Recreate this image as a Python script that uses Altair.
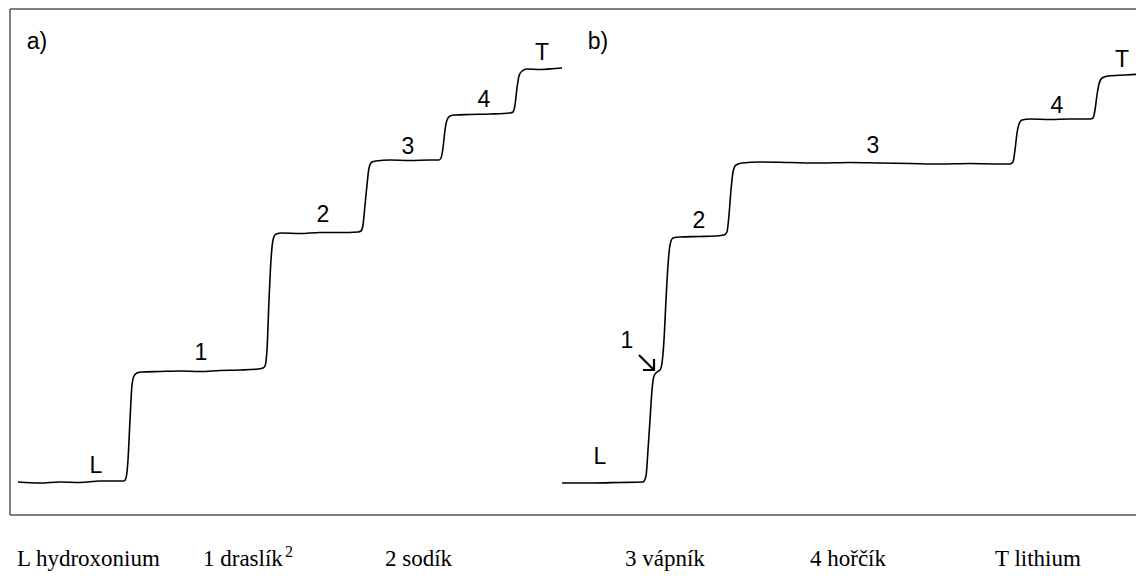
import altair as alt
import pandas as pd

# Panel a) trace (horizontal position, detector signal in picture units; lower y = higher signal)
a_x = [18, 40, 60, 80, 100, 124, 126, 128, 130, 132, 134, 137, 142, 160, 180, 200, 220, 240, 258, 263,
       265, 267, 269, 271, 273, 276, 282, 300, 320, 340, 358, 361, 363, 365, 367, 369, 372, 376, 390, 410,
       430, 439, 441, 443, 445, 447, 450, 455, 470, 490, 510, 513, 515, 517, 519, 522, 527, 540, 555, 562]
a_y = [482, 483, 482, 482.5, 481, 481, 478, 460, 420, 385, 376, 373, 372, 371.5, 371, 371.5, 370.5, 370, 369, 368,
       366, 350, 300, 260, 240, 234, 233, 233.5, 232.5, 232.5, 232, 231, 225, 205, 185, 168, 162, 161, 160, 160.5,
       160, 160, 158, 148, 130, 120, 116, 115, 114.5, 114, 113, 112, 105, 88, 76, 71, 69, 69.5, 68.5, 68]

# Panel b) trace
b_x = [562, 590, 620, 643, 646, 648, 650, 652, 654, 657, 660, 662, 664, 666, 668, 670, 673, 680, 700, 715,
       724, 727, 729, 731, 733, 736, 742, 760, 790, 820, 850, 880, 910, 940, 970, 1000, 1010, 1013, 1015, 1017,
       1019, 1022, 1030, 1050, 1070, 1090, 1093, 1095, 1097, 1099, 1102, 1108, 1125, 1144]
b_y = [483, 483, 482.5, 482, 476, 450, 420, 390, 376, 372, 370, 363, 340, 300, 265, 245, 238, 237, 236.5, 236,
       235, 232, 215, 190, 172, 165, 163, 162, 162.5, 163, 162.5, 163, 163.5, 164, 163.5, 164, 164, 162, 150, 133,
       124, 120, 119, 119.5, 119, 119, 118, 110, 95, 84, 78, 76, 75, 74]

# Zone labels
lab_text = ["a)", "L", "1", "2", "3", "4", "T", "b)", "L", "1", "2", "3", "4", "T"]
lab_x = [37, 96, 201, 323, 408, 484, 542, 598, 600, 627, 699, 873, 1057, 1122]
lab_y = [42, 466, 353, 215, 147, 100, 53, 42, 457, 341, 221, 146, 106, 60]

# Arrow pointing at zone 1 in panel b)
arrow_part = ["shaft", "shaft", "head", "head", "head"]
arrow_x = [639, 654, 643, 654, 654]
arrow_y = [355, 370, 370, 370, 359]

# Legend row
leg_text = ["L hydroxonium", "1 draslík", "2 sodík", "3 vápník", "4 hořčík", "T lithium"]
leg_x = [17, 203, 385, 625, 810, 995]
sup_text = ["2"]
sup_x = [285]

# Frame (left, top, bottom sides)
frame_x = [10, 10, 10]
frame_x2 = [10, 1150, 1150]
frame_y = [9, 9, 515]
frame_y2 = [515, 9, 515]

W, H = 1128, 563
xs = alt.Scale(domain=[8, 8 + W], nice=False, zero=False)
ys = alt.Scale(domain=[8, 8 + H], nice=False, zero=False, reverse=True)

trace = pd.DataFrame({"x": a_x + b_x, "y": a_y + b_y,
                      "panel": ["a"] * len(a_x) + ["b"] * len(b_x),
                      "order": list(range(len(a_x))) + list(range(len(b_x)))})
labels = pd.DataFrame({"t": lab_text, "x": lab_x, "y": lab_y})
arrow = pd.DataFrame({"x": arrow_x, "y": arrow_y, "part": arrow_part,
                      "order": list(range(len(arrow_x)))})
legend = pd.DataFrame({"t": leg_text, "x": leg_x, "y": [566] * len(leg_text)})
sup = pd.DataFrame({"t": sup_text, "x": sup_x, "y": [557]})
frame = pd.DataFrame({"x": frame_x, "x2": frame_x2, "y": frame_y, "y2": frame_y2})

X = lambda f="x": alt.X(f"{f}:Q", scale=xs, axis=None)
Y = lambda f="y": alt.Y(f"{f}:Q", scale=ys, axis=None)

frame_l = alt.Chart(frame).mark_rule(color="#555555", strokeWidth=1.5).encode(
    x=X(), x2="x2:Q", y=Y(), y2="y2:Q")

lines = alt.Chart(trace).mark_line(color="black", strokeWidth=1.6, interpolate="monotone").encode(
    x=X(), y=Y(), detail="panel:N", order="order:Q")

arr = alt.Chart(arrow).mark_line(color="black", strokeWidth=2.2).encode(
    x=X(), y=Y(), detail="part:N", order="order:Q")

labs = alt.Chart(labels).mark_text(font="Liberation Sans", fontSize=23, color="black",
                                   align="center", baseline="middle").encode(
    x=X(), y=Y(), text="t:N")

leg = alt.Chart(legend).mark_text(font="Liberation Serif", fontSize=23, color="black",
                                  align="left", baseline="alphabetic").encode(
    x=X(), y=Y(), text="t:N")

supl = alt.Chart(sup).mark_text(font="Liberation Serif", fontSize=16, color="black",
                                align="left", baseline="alphabetic").encode(
    x=X(), y=Y(), text="t:N")

chart = alt.layer(frame_l, lines, arr, labs, leg, supl).properties(
    width=W, height=H, autosize=alt.AutoSizeParams(type="none"), padding=0
).configure_view(stroke=None)

chart.save("out.html", embed_options={"renderer": "svg", "actions": False})
